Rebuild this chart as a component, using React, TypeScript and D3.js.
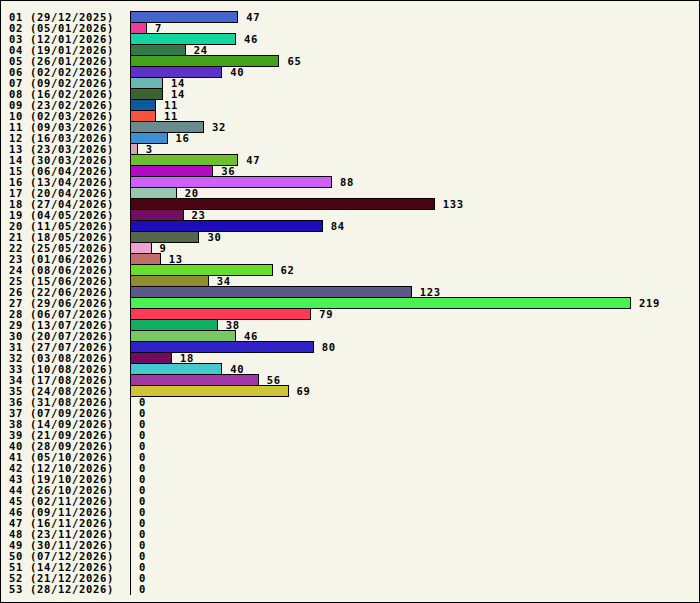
import React from "react";
import * as d3 from "d3";

const weeks: string[] = [
  "01 (29/12/2025)", "02 (05/01/2026)", "03 (12/01/2026)", "04 (19/01/2026)", "05 (26/01/2026)",
  "06 (02/02/2026)", "07 (09/02/2026)", "08 (16/02/2026)", "09 (23/02/2026)", "10 (02/03/2026)",
  "11 (09/03/2026)", "12 (16/03/2026)", "13 (23/03/2026)", "14 (30/03/2026)", "15 (06/04/2026)",
  "16 (13/04/2026)", "17 (20/04/2026)", "18 (27/04/2026)", "19 (04/05/2026)", "20 (11/05/2026)",
  "21 (18/05/2026)", "22 (25/05/2026)", "23 (01/06/2026)", "24 (08/06/2026)", "25 (15/06/2026)",
  "26 (22/06/2026)", "27 (29/06/2026)", "28 (06/07/2026)", "29 (13/07/2026)", "30 (20/07/2026)",
  "31 (27/07/2026)", "32 (03/08/2026)", "33 (10/08/2026)", "34 (17/08/2026)", "35 (24/08/2026)",
  "36 (31/08/2026)", "37 (07/09/2026)", "38 (14/09/2026)", "39 (21/09/2026)", "40 (28/09/2026)",
  "41 (05/10/2026)", "42 (12/10/2026)", "43 (19/10/2026)", "44 (26/10/2026)", "45 (02/11/2026)",
  "46 (09/11/2026)", "47 (16/11/2026)", "48 (23/11/2026)", "49 (30/11/2026)", "50 (07/12/2026)",
  "51 (14/12/2026)", "52 (21/12/2026)", "53 (28/12/2026)",
];

const values: number[] = [
  47, 7, 46, 24, 65, 40, 14, 14, 11, 11,
  32, 16, 3, 47, 36, 88, 20, 133, 23, 84,
  30, 9, 13, 62, 34, 123, 219, 79, 38, 46,
  80, 18, 40, 56, 69, 0, 0, 0, 0, 0,
  0, 0, 0, 0, 0, 0, 0, 0, 0, 0,
  0, 0, 0,
];

const colors: string[] = [
  "#4466cc", "#ee3d96", "#11d6a0", "#2f7a4b", "#44a11c", "#5f31c8", "#68b8b0", "#3c6430",
  "#1057a2", "#f8523c", "#6b8c8f", "#3a8fd6", "#dba2b4", "#6dc02b", "#b20bc3", "#cb62f5",
  "#9ac6b0", "#4a0514", "#720e61", "#1e0cb5", "#57684a", "#f0a0d2", "#c06e68", "#6cdd26",
  "#908c30", "#5b5a87", "#4bf052", "#fd3b55", "#10ad62", "#78c865", "#2e22c8", "#700b5f",
  "#44c9d0", "#a236a6", "#cdc536",
];

const W = 700;
const H = 603;
const FONT = "'DejaVu Sans Mono', monospace";

export default function App() {
  const x = d3.scaleLinear().domain([0, 219]).range([130, 630]);
  const y = d3
    .scaleBand<string>()
    .domain(weeks)
    .range([11, 11 + 11 * weeks.length])
    .padding(0);
  const bw = y.bandwidth();

  return (
    <svg
      width={W}
      height={H}
      style={{ position: "fixed", left: 0, top: 0, display: "block" }}
      shapeRendering="crispEdges"
    >
      <rect x={0} y={0} width={W} height={H} fill="#ffffff" />
      <rect x={0.5} y={0.5} width={W - 1} height={H - 1} fill="#f5f5e9" stroke="#000" strokeWidth={1} />
      {weeks.map((w, i) => {
        const v = values[i];
        const top = y(w) as number;
        return (
          <g key={w}>
            {v > 0 && (
              <rect
                x={x(0) + 0.5}
                y={top + 0.5}
                width={x(v) - x(0)}
                height={bw}
                fill={colors[i % colors.length]}
                stroke="#000"
                strokeWidth={1}
              />
            )}
            <text
              x={9}
              y={top + 10}
              fontFamily={FONT}
              fontWeight="bold"
              fontSize={10.5}
              letterSpacing={0.68}
              fill="#000"
              shapeRendering="auto"
            >
              {w}
            </text>
            <text
              x={x(v) + 9}
              y={top + 10}
              fontFamily={FONT}
              fontWeight="bold"
              fontSize={10.5}
              letterSpacing={0.68}
              fill="#000"
            >
              {v}
            </text>
          </g>
        );
      })}
      <line x1={x(0) + 0.5} x2={x(0) + 0.5} y1={11} y2={595} stroke="#000" strokeWidth={1} />
    </svg>
  );
}
